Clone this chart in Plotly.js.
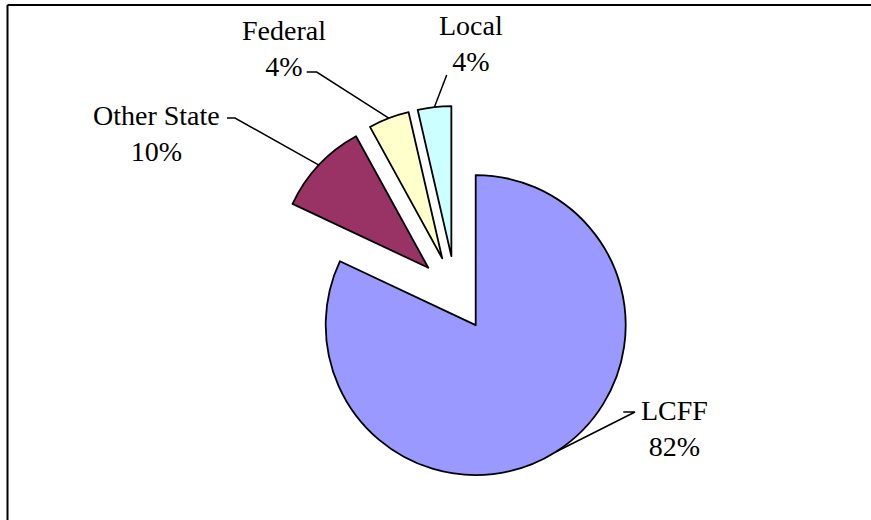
<!DOCTYPE html>
<html>
<head>
<meta charset="utf-8">
<script src="https://cdn.plot.ly/plotly-3.0.1.min.js"></script>
<style>html,body{margin:0;padding:0;background:#fff;overflow:hidden}</style>
</head>
<body>
<div id="chart" style="width:871px;height:520px"></div>
<script>
// ---- data ----
var categories = ["LCFF", "Other State", "Federal", "Local"];
var values = [82, 10, 4.4, 3.6];
var sliceColors = ["#9999FF", "#993366", "#FFFFCC", "#CCFFFF"];

// ---- layout geometry (pixels) ----
var W = 871, H = 520;
var centerPx = [455.6, 293.4];
var radiusPx = 150;
var pull = 0.25;
// label text block centers (pixels)
var labelPos = [[674, 428], [156, 133], [284, 48], [471, 43]];
// leader line elbow and end points (pixels)
var leaderElbow = [[635, 412], [235, 118], [316.7, 72], [446.7, 75]];
var leaderEnd = [[623.3, 412], [227, 118], [306.7, 72], [446.7, 75]];

var half = radiusPx * (1 + pull);
var domX = [(centerPx[0] - half) / W, (centerPx[0] + half) / W];
var domY = [1 - (centerPx[1] + half) / H, 1 - (centerPx[1] - half) / H];

var total = values.reduce(function (a, b) { return a + b; }, 0);
var pctText = values.map(function (v) { return Math.round(v / total * 100) + "%"; });

var trace = {
  type: "pie",
  labels: categories,
  values: values,
  sort: false,
  direction: "clockwise",
  rotation: 0,
  pull: values.map(function () { return pull; }),
  marker: { colors: sliceColors, line: { color: "#000000", width: 1.8 } },
  textinfo: "none",
  hoverinfo: "none",
  domain: { x: domX, y: domY },
  showlegend: false
};

function px(x) { return x / W; }
function py(y) { return 1 - y / H; }

var annotations = [];
var shapes = [
  { type: "line", xref: "paper", yref: "paper", x0: px(7.5), x1: 1, y0: py(5), y1: py(5),
    line: { color: "#000000", width: 2 } },
  { type: "line", xref: "paper", yref: "paper", x0: px(7.5), x1: px(7.5), y0: 0, y1: py(5),
    line: { color: "#000000", width: 2 } }
];

var cum = 0;
for (var i = 0; i < values.length; i++) {
  var mid = (cum + values[i] / 2) / total * 2 * Math.PI;
  cum += values[i];
  var apexX = centerPx[0] + pull * radiusPx * Math.sin(mid);
  var apexY = centerPx[1] - pull * radiusPx * Math.cos(mid);
  var tipX = apexX + radiusPx * Math.sin(mid);
  var tipY = apexY - radiusPx * Math.cos(mid);
  shapes.push({
    type: "path", xref: "paper", yref: "paper",
    path: "M" + px(tipX) + "," + py(tipY) +
          " L" + px(leaderElbow[i][0]) + "," + py(leaderElbow[i][1]) +
          " L" + px(leaderEnd[i][0]) + "," + py(leaderEnd[i][1]),
    line: { color: "#000000", width: 1.5 }
  });
  annotations.push({
    xref: "paper", yref: "paper",
    x: px(labelPos[i][0]), y: py(labelPos[i][1]),
    xanchor: "center", yanchor: "middle",
    text: categories[i] + "<br>" + pctText[i],
    showarrow: false,
    font: { family: "Liberation Serif", size: 28, color: "#000000" },
    align: "center"
  });
}

var layout = {
  width: W, height: H,
  margin: { l: 0, r: 0, t: 0, b: 0, pad: 0 },
  paper_bgcolor: "#ffffff",
  plot_bgcolor: "#ffffff",
  showlegend: false,
  annotations: annotations,
  shapes: shapes
};

Plotly.newPlot("chart", [trace], layout, { displayModeBar: false, staticPlot: true });
</script>
</body>
</html>
